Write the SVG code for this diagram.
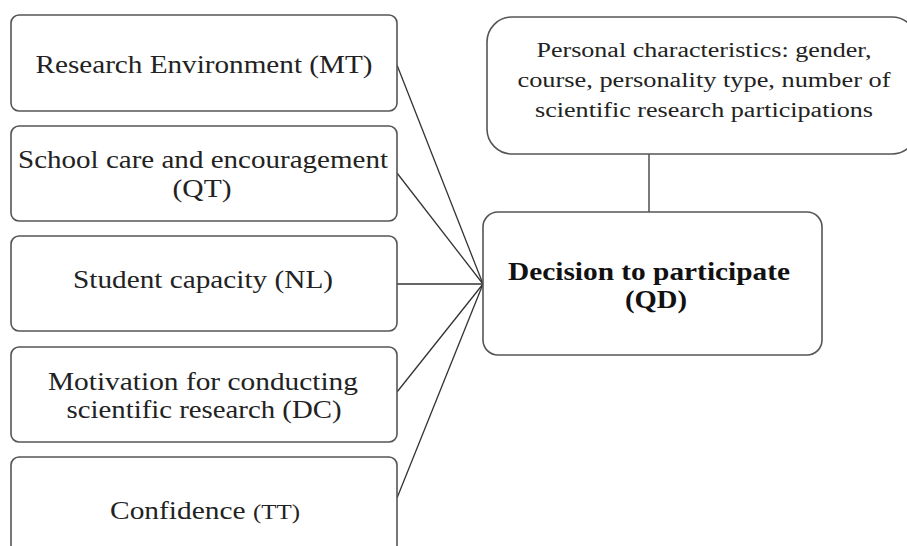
<svg xmlns="http://www.w3.org/2000/svg" width="907" height="546" viewBox="0 0 907 546">
<style>
.box{fill:#fff;stroke:#555;stroke-width:1.6}
.t{font-family:"Liberation Serif","Times New Roman",serif;font-size:26px;fill:#222;text-anchor:middle}
.s{font-family:"Liberation Serif","Times New Roman",serif;font-size:20px;fill:#222;text-anchor:middle}
.b{font-family:"Liberation Serif","Times New Roman",serif;font-size:25px;font-weight:bold;fill:#111;text-anchor:middle}
.c{stroke:#333;stroke-width:1.3;fill:none}
</style>
<rect width="907" height="546" fill="#fff"/>
<g id="connectors">
<line class="c" x1="397" y1="65" x2="483" y2="284"/>
<line class="c" x1="397" y1="173" x2="483" y2="284"/>
<line class="c" x1="397" y1="284" x2="483" y2="284"/>
<line class="c" x1="397" y1="392" x2="483" y2="284"/>
<line class="c" x1="397" y1="498" x2="483" y2="284"/>
<line class="c" x1="649" y1="153" x2="649" y2="212"/>
</g>
<g id="mt">
<rect class="box" x="11" y="15" width="386" height="96" rx="8"/>
<text class="t" x="204" y="73" textLength="337" lengthAdjust="spacingAndGlyphs">Research Environment (MT)</text>
</g>
<g id="qt">
<rect class="box" x="11" y="126" width="386" height="95" rx="8"/>
<text class="t" x="203" y="168" textLength="370" lengthAdjust="spacingAndGlyphs">School care and encouragement</text>
<text class="t" x="202" y="197" textLength="59" lengthAdjust="spacingAndGlyphs">(QT)</text>
</g>
<g id="nl">
<rect class="box" x="11" y="236" width="386" height="95" rx="8"/>
<text class="t" x="203" y="288" textLength="260" lengthAdjust="spacingAndGlyphs">Student capacity (NL)</text>
</g>
<g id="dc">
<rect class="box" x="11" y="347" width="386" height="95" rx="8"/>
<text class="t" x="203" y="390" textLength="310" lengthAdjust="spacingAndGlyphs">Motivation for conducting</text>
<text class="t" x="204" y="418" textLength="275" lengthAdjust="spacingAndGlyphs">scientific research (DC)</text>
</g>
<g id="tt">
<rect class="box" x="11" y="457" width="386" height="100" rx="8"/>
<text class="t" x="205" y="519" textLength="190" lengthAdjust="spacingAndGlyphs">Confidence <tspan font-size="22">(TT)</tspan></text>
</g>
<g id="personal">
<rect class="box" x="487" y="17" width="430" height="137" rx="25"/>
<text class="s" x="704" y="57" textLength="335" lengthAdjust="spacingAndGlyphs">Personal characteristics: gender,</text>
<text class="s" x="704" y="87" textLength="373" lengthAdjust="spacingAndGlyphs">course, personality type, number of</text>
<text class="s" x="704" y="117" textLength="338" lengthAdjust="spacingAndGlyphs">scientific research participations</text>
</g>
<g id="qd">
<rect class="box" x="483" y="212" width="339" height="143" rx="15"/>
<text class="b" x="649" y="280" textLength="282" lengthAdjust="spacingAndGlyphs">Decision to participate</text>
<text class="b" x="656" y="308" textLength="62" lengthAdjust="spacingAndGlyphs">(QD)</text>
</g>
</svg>
